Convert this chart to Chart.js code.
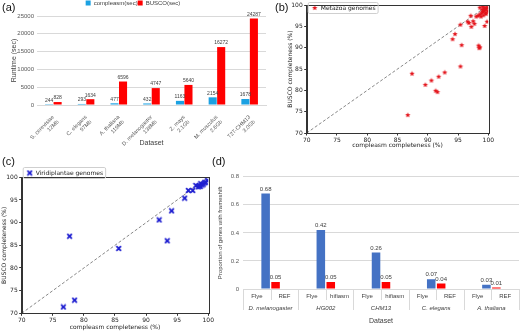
<!DOCTYPE html>
<html>
<head>
<meta charset="utf-8">
<script src="https://cdn.jsdelivr.net/npm/chart.js@4.4.0/dist/chart.umd.min.js"></script>
<style>
body { margin: 0; background: #fff; }
#wrap { position: relative; width: 520px; height: 331px; overflow: hidden; background: #fff; }
canvas { position: absolute; }
.tag { position: absolute; font: 11px 'Liberation Sans', Arial, sans-serif; color: #111; line-height: 1; }
</style>
</head>
<body>
<div id="wrap">
  <canvas id="chartA" width="268" height="150" style="left:0;top:0"></canvas>
  <canvas id="chartB" width="252" height="150" style="left:268px;top:0"></canvas>
  <canvas id="chartC" width="215" height="166" style="left:0;top:165px"></canvas>
  <canvas id="chartD" width="305" height="171" style="left:215px;top:160px"></canvas>
  <div class="tag" style="left:2px;top:2px">(a)</div>
  <div class="tag" style="left:275px;top:2px">(b)</div>
  <div class="tag" style="left:2px;top:156px">(c)</div>
  <div class="tag" style="left:212px;top:156px">(d)</div>
</div>
<script>
// (a) runtime per dataset
const runtimeDatasets = [['S. cerevisiae', '12Mb'], ['C. elegans', '97Mb'], ['A. thaliana', '119Mb'],
  ['D. melanogaster', '138Mb'], ['Z. mays', '2.1Gb'], ['M. musculus', '2.6Gb'], ['T2T-CHM13', '3.0Gb']];
const compleasmSec = [244, 293, 477, 432, 1163, 2154, 1678];
const buscoSec = [828, 1634, 6596, 4747, 5640, 16272, 24287];
const runtimeTicks = [0, 5000, 10000, 15000, 20000, 25000];

// (b) Metazoa completeness
const metazoaCompleasm = [86.7, 87.4, 89.6, 90.6, 91.8, 92.8, 91.3, 91.6, 95.4, 94.1, 94.5, 95.6, 95.4,
  97.1, 96.6, 96.8, 97.2, 97.5, 97.7, 98.4, 98.6, 98.5, 99.4, 99.8,
  98.0, 98.3, 98.6, 98.9, 99.1, 99.3, 99.5, 99.7, 99.2, 99.6, 99.0, 99.4, 99.8, 99.9, 98.8, 99.6, 99.3, 98.6, 99.1];
const metazoaBusco = [74.2, 83.9, 81.3, 82.3, 83.2, 84.2, 79.9, 79.6, 85.6, 92.0, 93.2, 90.6, 95.4,
  97.5, 96.1, 95.8, 94.9, 96.2, 95.6, 90.5, 90.1, 89.9, 95.1, 96.1,
  97.3, 97.5, 97.8, 98.1, 98.4, 98.7, 99.0, 99.2, 97.6, 97.9, 98.9, 99.3, 99.5, 98.6, 97.3, 98.2, 99.0, 99.4, 99.6];

// (c) Viridiplantae completeness
const plantCompleasm = [76.7, 78.5, 77.7, 85.6, 92.1, 93.4, 94.1, 96.2, 96.8, 97.5, 98.0, 98.4, 98.6, 98.8, 99.0, 99.2, 99.4, 99.6, 99.9, 98.7];
const plantBusco = [71.4, 72.9, 87.0, 84.3, 90.6, 86.0, 92.6, 95.4, 97.1, 97.1, 98.2, 97.9, 98.1, 98.6, 98.3, 98.5, 98.8, 98.9, 99.3, 98.0];
const identityLine = [70, 100];
const completenessTicks = [70, 75, 80, 85, 90, 95, 100];

// (d) frameshift proportion
const groupNames = ['D. melanogaster', 'HG002', 'CHM13', 'C. elegans', 'A. thaliana'];
const assemblerLabels = ['Flye', 'REF', 'Flye', 'hifiasm', 'Flye', 'hifiasm', 'Flye', 'REF', 'Flye', 'REF'];
const flyeFrameshift = [0.68, 0.42, 0.26, 0.07, 0.03];
const otherFrameshift = [0.05, 0.05, 0.05, 0.04, 0.01];
const frameshiftTicks = [0, 0.2, 0.4, 0.6, 0.8];

const ARIAL = "'Liberation Sans', Arial, sans-serif";
const DEJAVU = "'DejaVu Sans', sans-serif";

function fixedTicks(list) {
  return scale => { scale.ticks = list.map(v => ({ value: v })); };
}

function starMarker(color, r) {
  const c = document.createElement('canvas');
  const s = Math.ceil(r * 2 + 2);
  c.width = c.height = s;
  const g = c.getContext('2d');
  g.fillStyle = color;
  g.beginPath();
  for (let k = 0; k < 10; k++) {
    const a = -Math.PI / 2 + k * Math.PI / 5;
    const rr = k % 2 ? r * 0.45 : r;
    g.lineTo(s / 2 + rr * Math.cos(a), s / 2 + rr * Math.sin(a));
  }
  g.closePath();
  g.fill();
  return c;
}

function xMarker(color, r) {
  const c = document.createElement('canvas');
  const s = Math.ceil(r * 2 + 2);
  c.width = c.height = s;
  const g = c.getContext('2d');
  g.strokeStyle = color;
  g.lineWidth = 1.8;
  g.beginPath();
  g.moveTo(s / 2 - r, s / 2 - r); g.lineTo(s / 2 + r, s / 2 + r);
  g.moveTo(s / 2 + r, s / 2 - r); g.lineTo(s / 2 - r, s / 2 + r);
  g.stroke();
  return c;
}

// value text over bars
const barValueLabels = {
  id: 'barValueLabels',
  afterDatasetsDraw(chart, args, opts) {
    const ctx = chart.ctx;
    ctx.save();
    ctx.font = opts.font;
    ctx.fillStyle = opts.color;
    ctx.textAlign = 'center';
    ctx.textBaseline = 'bottom';
    chart.data.datasets.forEach((ds, i) => {
      const meta = chart.getDatasetMeta(i);
      meta.data.forEach((el, j) => {
        const v = ds.data[j];
        if (v == null) return;
        ctx.fillText(opts.format ? opts.format(v) : String(v), el.x, el.y - 1.5);
      });
    });
    ctx.restore();
  }
};

// matplotlib-ish box around plot and legend
const frameBox = {
  id: 'frameBox',
  afterDraw(chart) {
    const { ctx, chartArea: a } = chart;
    ctx.save();
    ctx.strokeStyle = '#333';
    ctx.lineWidth = 1;
    ctx.strokeRect(Math.round(a.left) + 0.5, Math.round(a.top) + 0.5, Math.round(a.right - a.left), Math.round(a.bottom - a.top));
    const lg = chart.legend;
    if (lg && lg.legendHitBoxes && lg.legendHitBoxes.length) {
      const h = lg.legendHitBoxes[0];
      ctx.strokeStyle = '#cfcfcf';
      ctx.beginPath();
      ctx.roundRect(h.left - 3.5, h.top - 2.5, h.width + 6, h.height + 5, 1.5);
      ctx.stroke();
    }
    ctx.restore();
  }
};

// category separators for panel (d)
const groupLines = {
  id: 'groupLines',
  afterDraw(chart) {
    const { ctx, chartArea, scales } = chart;
    const x = scales.x;
    ctx.save();
    ctx.strokeStyle = '#d9d9d9';
    ctx.lineWidth = 1;
    ctx.beginPath();
    for (let k = 0; k <= groupNames.length; k++) {
      const px = Math.round(x.getPixelForValue(k - 0.5)) + 0.5;
      ctx.moveTo(px, chartArea.bottom);
      ctx.lineTo(px, x.top + 8);
    }
    for (let k = 0; k < groupNames.length; k++) {
      const px = Math.round(x.getPixelForValue(k)) + 0.5;
      ctx.moveTo(px, chartArea.bottom);
      ctx.lineTo(px, scales.xs.bottom - 2);
    }
    ctx.stroke();
    ctx.restore();
  }
};

// ---------- (a)
new Chart(document.getElementById('chartA'), {
  type: 'bar',
  data: {
    labels: runtimeDatasets,
    datasets: [
      { label: 'compleasm(sec)', data: compleasmSec, backgroundColor: '#1BA1E2', categoryPercentage: 0.52, barPercentage: 0.95 },
      { label: 'BUSCO(sec)', data: buscoSec, backgroundColor: '#FF0000', categoryPercentage: 0.52, barPercentage: 0.95 },
    ],
  },
  options: {
    responsive: false,
    animation: false,
    devicePixelRatio: 1,
    layout: { padding: { top: 0, right: 2, left: 0, bottom: 0 } },
    plugins: {
      legend: {
        position: 'top',
        labels: { font: { family: ARIAL, size: 6 }, color: '#404040', boxWidth: 5, boxHeight: 5, padding: 0 },
      },
      tooltip: { enabled: false },
      barValueLabels: { font: '5px ' + ARIAL, color: '#404040' },
    },
    scales: {
      x: {
        afterFit: s => { s.height = 45; },
        grid: { display: false },
        border: { color: '#d9d9d9' },
        ticks: { font: { family: ARIAL, size: 5.5 }, color: '#595959', minRotation: 45, maxRotation: 45, padding: 1 },
        title: { display: true, text: 'Dataset', font: { family: ARIAL, size: 7 }, color: '#404040', padding: { top: 0, bottom: 2.8 } },
      },
      y: {
        min: 0,
        max: 25000,
        afterBuildTicks: fixedTicks(runtimeTicks),
        afterFit: s => { s.width = 37; },
        grid: { color: '#d9d9d9', drawTicks: false },
        border: { display: false },
        ticks: { font: { family: ARIAL, size: 6 }, color: '#595959', padding: 3, callback: v => String(v) },
        title: { display: true, text: 'Runtime (sec)', font: { family: ARIAL, size: 7 }, color: '#404040', padding: { top: 9.8, bottom: 0 } },
      },
    },
  },
  plugins: [barValueLabels],
});

// ---------- (b) and (c)
function completenessChart(id, label, xs, ys, marker, frame) {
  return new Chart(document.getElementById(id), {
    type: 'scatter',
    data: {
      datasets: [
        { label: label, data: xs.map((v, i) => ({ x: v, y: ys[i] })), pointStyle: marker, pointRadius: 3 },
        { type: 'line', label: 'y=x', data: identityLine.map(v => ({ x: v, y: v })), borderColor: '#7a7a7a',
          borderWidth: 0.9, borderDash: [3, 2], pointRadius: 0, fill: false },
      ],
    },
    options: {
      responsive: false,
      animation: false,
      devicePixelRatio: 1,
      layout: { padding: { top: frame.top, right: frame.right, left: 0, bottom: 0 } },
      plugins: {
        legend: {
          position: 'chartArea',
          align: 'start',
          labels: { font: { family: DEJAVU, size: 6 }, color: '#222', usePointStyle: true, padding: 5,
            filter: item => item.datasetIndex === 0 },
        },
        tooltip: { enabled: false },
      },
      scales: {
        x: {
          type: 'linear', min: 70, max: 100,
          afterBuildTicks: fixedTicks(completenessTicks),
          afterFit: s => { s.height = frame.xh; },
          grid: { drawOnChartArea: false, color: '#333', tickLength: 2.5 },
          border: { color: '#333' },
          ticks: { font: { family: DEJAVU, size: 6 }, color: '#222', padding: 1 },
          title: { display: true, text: 'compleasm completeness (%)', font: { family: DEJAVU, size: 6 }, color: '#222', padding: { top: 0, bottom: frame.xpad } },
        },
        y: {
          type: 'linear', min: 70, max: 100,
          afterBuildTicks: fixedTicks(completenessTicks),
          afterFit: s => { s.width = frame.yw; },
          grid: { drawOnChartArea: false, color: '#333', tickLength: 2.5 },
          border: { color: '#333' },
          ticks: { font: { family: DEJAVU, size: 6 }, color: '#222', padding: 1.5 },
          title: { display: true, text: 'BUSCO completeness (%)', font: { family: DEJAVU, size: 6 }, color: '#222', padding: { top: frame.ypad, bottom: 0 } },
        },
      },
    },
    plugins: [frameBox],
  });
}

completenessChart('chartB', 'Metazoa genomes', metazoaCompleasm, metazoaBusco, starMarker('#e3141b', 2.8),
  { top: 4, right: 31.7, xh: 17, yw: 38.7, xpad: 1.4, ypad: 18.4 });
completenessChart('chartC', 'Viridiplantae genomes', plantCompleasm, plantBusco, xMarker('#1f1fd0', 2.3),
  { top: 12.3, right: 6, xh: 17.7, yw: 21.7, xpad: 0.4, ypad: 0.4 });

// ---------- (d)
new Chart(document.getElementById('chartD'), {
  type: 'bar',
  data: {
    labels: groupNames,
    datasets: [
      { label: 'Flye', data: flyeFrameshift, xAxisID: 'x', yAxisID: 'y', backgroundColor: '#4472C4', categoryPercentage: 0.36, barPercentage: 0.86 },
      { label: 'REF / hifiasm', data: otherFrameshift, xAxisID: 'x', yAxisID: 'y', backgroundColor: '#FF0000', categoryPercentage: 0.36, barPercentage: 0.86 },
    ],
  },
  options: {
    responsive: false,
    animation: false,
    devicePixelRatio: 1,
    layout: { padding: { top: 16.7, right: 1, left: 0, bottom: 0 } },
    plugins: {
      legend: { display: false },
      tooltip: { enabled: false },
      barValueLabels: { font: '6px ' + ARIAL, color: '#404040', format: v => v.toFixed(2) },
    },
    scales: {
      x: {
        type: 'category',
        position: 'bottom',
        weight: 1,
        afterFit: s => { s.height = 29; },
        grid: { display: false, drawTicks: false },
        border: { display: false },
        ticks: { font: { family: ARIAL, size: 6, style: 'italic' }, color: '#404040', padding: 2.4, maxRotation: 0 },
        title: { display: true, text: 'Dataset', font: { family: ARIAL, size: 7 }, color: '#404040', padding: { top: 0, bottom: 5.8 } },
      },
      xs: {
        type: 'category',
        position: 'bottom',
        labels: assemblerLabels,
        weight: 0,
        afterFit: s => { s.height = 13; },
        grid: { display: false, drawTicks: false },
        border: { display: false },
        ticks: { font: { family: ARIAL, size: 6 }, color: '#404040', padding: 4, maxRotation: 0, autoSkip: false },
      },
      y: {
        min: 0,
        max: 0.8,
        afterBuildTicks: fixedTicks(frameshiftTicks),
        afterFit: s => { s.width = 28; },
        grid: { color: '#d9d9d9', drawTicks: false },
        border: { display: false },
        ticks: { font: { family: ARIAL, size: 6 }, color: '#595959', padding: 4 },
        title: { display: true, text: 'Proportion of genes with frameshift', font: { family: ARIAL, size: 6 }, color: '#404040', padding: { top: 1.9, bottom: 0 } },
      },
    },
  },
  plugins: [barValueLabels, groupLines],
});
</script>
</body>
</html>
